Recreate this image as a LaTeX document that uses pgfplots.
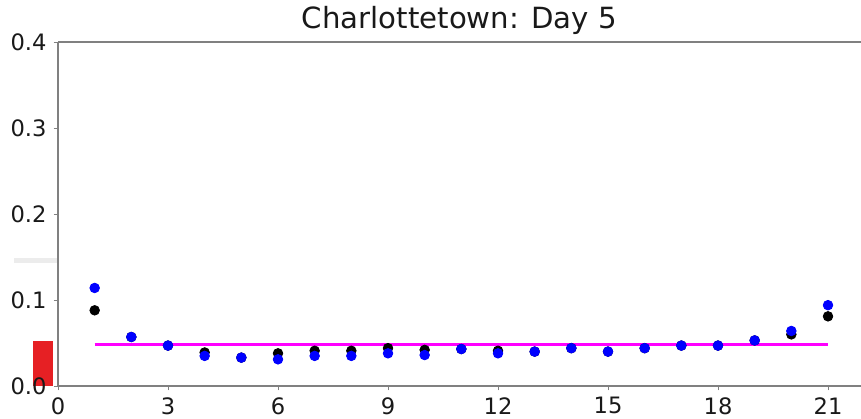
\documentclass[border=0pt]{standalone}
\usepackage{pgfplots}
\pgfplotsset{compat=1.18}
\usepackage{fontspec}
\setmainfont{DejaVu Sans}
\definecolor{spine}{RGB}{128,128,128}
\definecolor{redbar}{RGB}{230,32,36}
\definecolor{graybar}{RGB}{236,236,236}
\definecolor{mag}{RGB}{255,0,255}
\begin{document}
\begin{tikzpicture}[x=1pt,y=1pt]
\begin{axis}[
  name=ax,
  set layers,
  scale only axis,
  width=401.5pt, height=172pt,
  xmin=0, xmax=21.9, ymin=0, ymax=0.4,
  axis x line*=bottom, axis y line*=left,
  axis line style={spine, line width=0.6pt, -},
  xtick={0,3,...,21},
  ytick={0,0.1,0.2,0.3,0.4},
  yticklabel style={/pgf/number format/fixed, /pgf/number format/fixed zerofill, /pgf/number format/precision=1},
  /pgf/number format/assume math mode=true,
  tick label style={font=\fontsize{11.3}{13}\selectfont, text=black!90},
  tick align=outside, tick pos=left,
  major tick length=2.2pt,
  tick style={spine, line width=0.5pt},
  title={Charlottetown: Day 5},
  title style={font=\fontsize{14.6}{17}\selectfont, yshift=-6pt, text=black!90},
  clip=false,
]
\begin{pgfonlayer}{axis background}
\fill[graybar] (axis cs:-1.2,0.143) rectangle (axis cs:0,0.149);
\fill[redbar] (axis cs:-0.68,0) rectangle (axis cs:-0.14,0.052);
\end{pgfonlayer}
\draw[spine, line width=0.6pt] (rel axis cs:0,1) -- (rel axis cs:1.05,1);
\addplot[mag, line width=1.3pt] coordinates {(1,0.048) (21,0.048)};
\addplot[only marks, mark=*, mark size=2.4pt, black] coordinates {
(1,0.088) (2,0.057) (3,0.047) (4,0.039) (5,0.033) (6,0.038) (7,0.041)
(8,0.041) (9,0.044) (10,0.042) (11,0.043) (12,0.041) (13,0.040) (14,0.044)
(15,0.040) (16,0.044) (17,0.047) (18,0.047) (19,0.053) (20,0.060) (21,0.081)};
\addplot[only marks, mark=*, mark size=2.4pt, blue] coordinates {
(1,0.114) (2,0.057) (3,0.047) (4,0.035) (5,0.033) (6,0.031) (7,0.035)
(8,0.035) (9,0.038) (10,0.036) (11,0.043) (12,0.038) (13,0.040) (14,0.044)
(15,0.040) (16,0.044) (17,0.047) (18,0.047) (19,0.053) (20,0.064) (21,0.094)};
\end{axis}
\pgfresetboundingbox
\path[use as bounding box] ([xshift=-29pt,yshift=-16pt]ax.south west) rectangle ([yshift=21pt]ax.north east);
\end{tikzpicture}
\end{document}
